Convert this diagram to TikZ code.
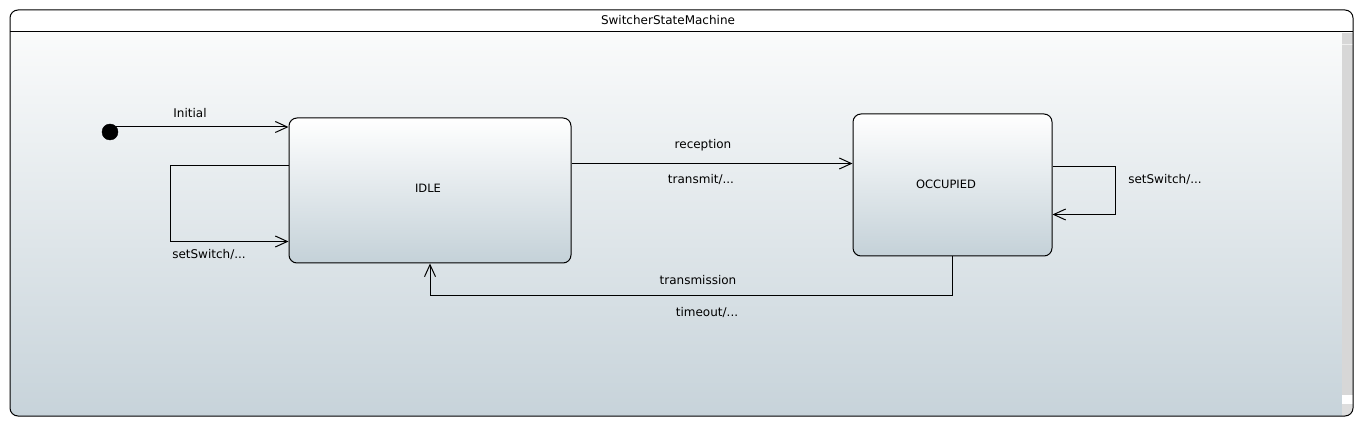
\documentclass[tikz,border=0pt]{standalone}
\usepackage{fontspec}
\setmainfont{DejaVu Sans}
\usetikzlibrary{arrows.meta,calc,positioning}
\definecolor{bgtop}{HTML}{FAFBFB}
\definecolor{bgbot}{HTML}{C7D3DA}
\definecolor{sttop}{HTML}{FFFFFF}
\definecolor{stbot}{HTML}{C4D1D8}
\definecolor{scroll}{HTML}{D7D7D7}
\tikzset{
  statebox/.style={draw=black, line width=1pt, rounded corners=8pt, top color=sttop, bottom color=stbot, font=\fontsize{11.5}{13}\selectfont, inner sep=0pt},
  lbl/.style={font=\fontsize{12}{14}\selectfont, inner sep=0pt},
  conn/.style={draw=black, line width=1pt},
  arr/.style={conn, -{Straight Barb[length=12pt,width=11pt,line width=1pt]}},
}
\begin{document}
\begin{tikzpicture}[x=1pt,y=-1pt]
\useasboundingbox (0,0) rectangle (1364,427);
% frame
\fill[white, rounded corners=8pt] (10,10) rectangle (1353,416);
\begin{scope}
  \clip[rounded corners=8pt] (10,10) rectangle (1353,416);
  \shade[top color=bgtop, bottom color=bgbot] (10,32) rectangle (1353,416);
  % scrollbar
  \fill[fill=scroll] (1342,33) rectangle (1353,395);
  \fill[fill=white!60!scroll] (1342,44) rectangle (1353,45);
  \fill[fill=white] (1342,395) rectangle (1353,404);
  \fill[fill=scroll!85!white] (1342,404) rectangle (1353,416);
\end{scope}
\draw[line width=1pt, rounded corners=8pt] (10,10) rectangle (1353,416);
\draw[line width=1pt] (10,32) -- (1353,32);
\node[lbl] (title) at (668,20) {SwitcherStateMachine};
% states
\node[statebox, minimum width=282pt, minimum height=145pt] (idle) at (430,190.5) {};
\node[lbl, font=\fontsize{11.5}{13}\selectfont] (idlelbl) at (428,188.5) {IDLE};
\node[statebox, minimum width=199pt, minimum height=142pt] (occ) at (952.5,185) {};
\node[lbl, font=\fontsize{11.5}{13}\selectfont] (occlbl) at (946,184) {OCCUPIED};
% initial
\node[circle, fill=black, draw=black, minimum size=16pt, inner sep=0pt] (init) at (110,132) {};
\coordinate (initstart) at ($(init.center)+(6,-5)$);
\draw[arr] (initstart) -- (initstart -| idle.west);
\node[lbl] (initlbl) at (190,113.5) {Initial};
% IDLE self loop
\coordinate (il1) at ($(idle.north west)+(0,48)$);
\coordinate (il2) at ($(idle.north west)+(0,124)$);
\draw[arr] (il1) -- ++(-118,0) |- (il2);
\node[lbl] (setsw1) at (209,254.5) {setSwitch/...};
% reception
\coordinate (rc1) at ($(idle.north east)+(0,46)$);
\draw[arr] (rc1) -- (rc1 -| occ.west);
\node[lbl] (reclbl) at (703,145.5) {reception};
\node[lbl] (trlbl) at (701,179.5) {transmit/...};
% OCC self loop
\coordinate (ol1) at ($(occ.north east)+(0,53)$);
\coordinate (ol2) at ($(occ.north east)+(0,101)$);
\draw[arr] (ol1) -- ++(63,0) |- (ol2);
\node[lbl] (setsw2) at (1165,179.5) {setSwitch/...};
% transmission
\coordinate (tm1) at ($(occ.south)+(0,39)$);
\draw[arr] (occ.south) -- (tm1) -| (idle.south);
\node[lbl] (tmlbl) at (698,280.5) {transmission};
\node[lbl] (tolbl) at (707,312.5) {timeout/...};
\end{tikzpicture}
\end{document}
